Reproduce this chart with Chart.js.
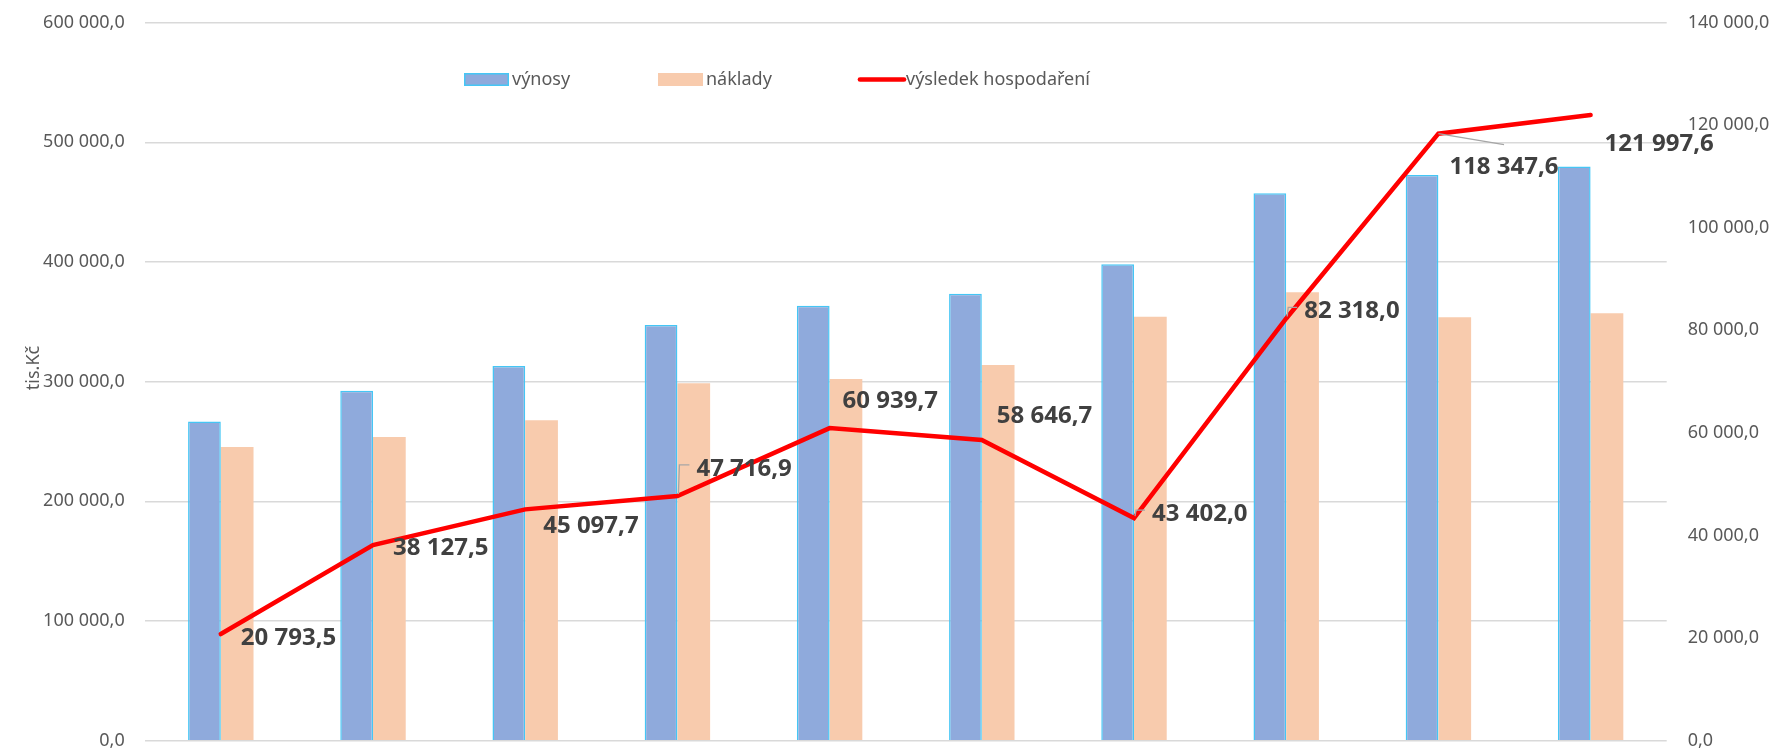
<!DOCTYPE html>
<html lang="cs">
<head>
<meta charset="utf-8">
<title>Výnosy, náklady a výsledek hospodaření</title>
<script src="https://cdn.jsdelivr.net/npm/chart.js@4.4.1/dist/chart.umd.min.js"></script>
<style>
  html, body { margin: 0; padding: 0; background: #fff; }
  #wrap { width: 1773px; height: 752px; }
</style>
</head>
<body>
<div id="wrap"><canvas id="chart" width="1773" height="752"></canvas></div>
<script>
// data (tis. Kč)
const categories = ['1', '2', '3', '4', '5', '6', '7', '8', '9', '10'];
const vynosy   = [266600, 292500, 313100, 347400, 363500, 373500, 398100, 457400, 472700, 479700];
const naklady  = [245400, 253800, 267700, 298700, 302300, 314000, 354300, 374700, 353800, 357200];
const vysledek = [20793.5, 38127.5, 45097.7, 47716.9, 60939.7, 58646.7, 43402.0, 82318.0, 118347.6, 121997.6];

const leftTicks  = [0, 100000, 200000, 300000, 400000, 500000, 600000];
const rightTicks = [0, 20000, 40000, 60000, 80000, 100000, 120000, 140000];

// where each value label sits relative to its point [dx, dy], and its leader line
const labelOffsets = [[20, 2], [20, 1], [18, 15], [19, -29], [13, -29], [15, -25], [18, -6], [18, -9], [11, 32], [14, 27]];
const leaders = [null, null, null, 'side', null, null, 'side', 'side', 'diag', null];

const FONT = "'Noto Sans', sans-serif";
const GREY = '#595959';

function fmt(v) {
    const [i, d] = Number(v).toFixed(1).split('.');
    return i.replace(/\B(?=(\d{3})+(?!\d))/g, ' ') + ',' + d;
}

// value labels on the line
const valueLabels = {
    id: 'valueLabels',
    afterDatasetsDraw(chart) {
        const ctx = chart.ctx;
        const meta = chart.getDatasetMeta(2);
        ctx.save();
        ctx.font = 'bold 24px ' + FONT;
        meta.data.forEach((pt, i) => {
            const [dx, dy] = labelOffsets[i];
            const x = pt.x + dx, cy = pt.y + dy;
            const text = fmt(vysledek[i]);
            const w = ctx.measureText(text).width;
            ctx.strokeStyle = '#a6a6a6';
            ctx.lineWidth = 1.3;
            if (leaders[i] === 'side') {
                ctx.beginPath();
                ctx.moveTo(pt.x + 1, pt.y - 2);
                ctx.lineTo(pt.x + 2, cy - 2);
                ctx.lineTo(x - 7, cy - 2);
                ctx.stroke();
            } else if (leaders[i] === 'diag') {
                ctx.beginPath();
                ctx.moveTo(pt.x, pt.y);
                ctx.lineTo(x + w / 2, cy - 21);
                ctx.stroke();
            }
            ctx.fillStyle = '#404040';
            ctx.textAlign = 'left';
            ctx.textBaseline = 'alphabetic';
            ctx.fillText(text, x, cy + 24 * 0.357);
        });
        ctx.restore();
    }
};

// legend + axis title, drawn like the Excel original
const legendX = [464, 658, 858];
const extras = {
    id: 'extras',
    afterDraw(chart) {
        const ctx = chart.ctx;
        const ds = chart.data.datasets;
        ctx.save();
        ctx.font = '18px ' + FONT;
        ctx.fillStyle = GREY;
        ctx.textBaseline = 'middle';
        const cy = 79.5;
        ds.forEach((d, i) => {
            const x = legendX[i];
            if (d.type === 'line') {
                ctx.strokeStyle = d.borderColor;
                ctx.lineWidth = 4.7;
                ctx.lineCap = 'round';
                ctx.beginPath();
                ctx.moveTo(x + 2, cy);
                ctx.lineTo(x + 46, cy);
                ctx.stroke();
            } else {
                ctx.fillStyle = d.backgroundColor;
                ctx.fillRect(x, cy - 6.5, 45, 13);
                if (d.borderWidth) {
                    ctx.strokeStyle = d.borderColor;
                    ctx.lineWidth = 1.5;
                    ctx.strokeRect(x + 0.75, cy - 5.75, 43.5, 11.5);
                }
            }
            ctx.fillStyle = GREY;
            ctx.textAlign = 'left';
            ctx.fillText(d.label, x + 48, cy);
        });

        ctx.translate(34, 368);
        ctx.rotate(-Math.PI / 2);
        ctx.textAlign = 'center';
        ctx.fillText('tis.Kč', 0, 0);
        ctx.restore();
    }
};

// fixed axis widths, no extra label overflow so the plot box lands where Excel had it
function fitLeft(s) { s.width = 144.7; s.paddingTop = 0; s.paddingBottom = 0; }
function fitRight(s) { s.width = 106.3; s.paddingTop = 0; s.paddingBottom = 0; }

new Chart(document.getElementById('chart'), {
    type: 'bar',
    data: {
        labels: categories,
        datasets: [
            {
                label: 'výnosy',
                data: vynosy,
                backgroundColor: '#8faadc',
                borderColor: '#45c6f5',
                borderWidth: 1.5,
                yAxisID: 'y',
                order: 1,
                categoryPercentage: 0.43,
                barPercentage: 1
            },
            {
                label: 'náklady',
                data: naklady,
                backgroundColor: '#f8cbad',
                borderWidth: 0,
                yAxisID: 'y',
                order: 2,
                categoryPercentage: 0.43,
                barPercentage: 1
            },
            {
                type: 'line',
                label: 'výsledek hospodaření',
                data: vysledek,
                borderColor: '#ff0000',
                backgroundColor: '#ff0000',
                borderWidth: 4.5,
                borderCapStyle: 'round',
                borderJoinStyle: 'miter',
                pointRadius: 0,
                tension: 0,
                yAxisID: 'y2',
                order: 0
            }
        ]
    },
    options: {
        responsive: false,
        animation: false,
        devicePixelRatio: 1,
        layout: { padding: { top: 22.6, bottom: 11.3, left: 0, right: 0 } },
        plugins: {
            legend: { display: false },
            tooltip: { enabled: false }
        },
        scales: {
            x: { display: false, offset: true, grid: { display: false } },
            y: {
                position: 'left',
                min: 0,
                max: 600000,
                afterBuildTicks: s => { s.ticks = leftTicks.map(v => ({ value: v })); },
                afterFit: fitLeft,
                grid: { color: '#d9d9d9', lineWidth: 1.5, drawTicks: false },
                border: { display: false },
                ticks: {
                    padding: 20,
                    color: GREY,
                    font: { family: FONT, size: 18 },
                    callback: v => fmt(v)
                }
            },
            y2: {
                position: 'right',
                min: 0,
                max: 140000,
                afterBuildTicks: s => { s.ticks = rightTicks.map(v => ({ value: v })); },
                afterFit: fitRight,
                grid: { drawOnChartArea: false, drawTicks: false },
                border: { display: false },
                ticks: {
                    padding: 21,
                    color: GREY,
                    font: { family: FONT, size: 18 },
                    callback: v => fmt(v)
                }
            }
        }
    },
    plugins: [valueLabels, extras]
});
</script>
</body>
</html>
